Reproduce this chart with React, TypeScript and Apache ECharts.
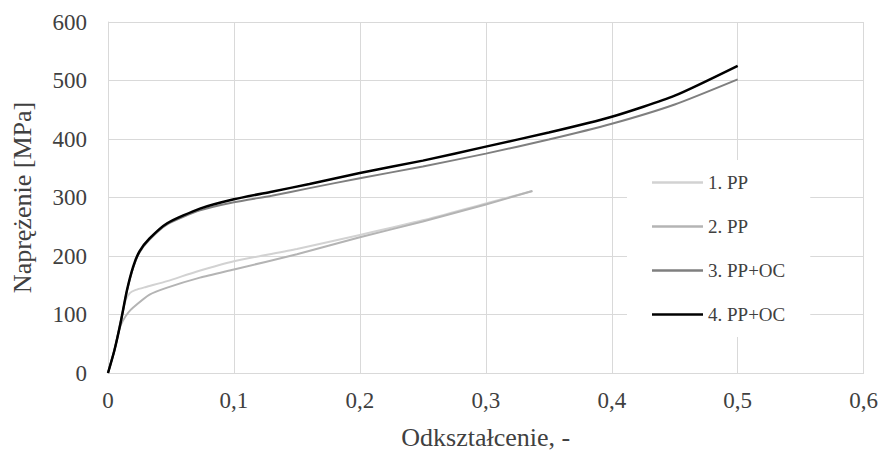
import React, { useEffect, useRef } from "react";
import * as echarts from "echarts";

const names = ["1. PP", "2. PP", "3. PP+OC", "4. PP+OC"];
const colors = ["#d2d2d2", "#b4b4b4", "#7f7f7f", "#000000"];
const widths = [2, 2, 2, 2.5];

const x1 = [0, 0.005, 0.01, 0.014, 0.0175, 0.022, 0.03, 0.047, 0.07, 0.1, 0.15, 0.2, 0.25, 0.3, 0.337];
const y1 = [0, 38, 88, 124, 137, 142, 147, 157, 173, 191, 212, 236, 261, 290, 311];

const x2 = [0, 0.005, 0.009, 0.012, 0.016, 0.02, 0.033, 0.047, 0.073, 0.1, 0.15, 0.2, 0.25, 0.3, 0.337];
const y2 = [0, 38, 75, 90, 103, 112, 134, 146, 163, 177, 203, 232, 259, 288, 311];

const x3 = [0, 0.005, 0.01, 0.015, 0.02, 0.025, 0.033, 0.047, 0.073, 0.1, 0.13, 0.16, 0.2, 0.25, 0.3, 0.35, 0.4, 0.45, 0.5];
const y3 = [0, 38, 86, 140, 180, 206, 228, 254, 278, 292, 303, 316, 333, 353, 375, 399, 426, 459, 502];

const x4 = [0, 0.005, 0.01, 0.015, 0.02, 0.025, 0.033, 0.047, 0.073, 0.1, 0.13, 0.16, 0.2, 0.25, 0.3, 0.35, 0.4, 0.45, 0.5];
const y4 = [0, 38, 86, 141, 182, 208, 230, 256, 281, 297, 310, 323, 342, 363, 387, 411, 438, 474, 525];

const xs = [x1, x2, x3, x4];
const ys = [y1, y2, y3, y4];

const FONT = "'Liberation Serif', 'Times New Roman', serif";

export default function App() {
  const ref = useRef<HTMLDivElement>(null);
  useEffect(() => {
    if (!ref.current) return;
    const chart = echarts.init(ref.current, null, { renderer: "svg" });
    chart.setOption({
      animation: false,
      backgroundColor: "#ffffff",
      textStyle: { fontFamily: FONT, color: "#404040" },
      grid: { left: 108, right: 17, top: 22, bottom: 79 },
      legend: {
        orient: "vertical",
        left: 627,
        top: 160,
        data: names.map((n) => ({ name: n, icon: "rect" })),
        itemWidth: 51,
        itemHeight: 2.5,
        itemGap: 25,
        padding: [13, 25, 13, 25],
        backgroundColor: "#ffffff",
        textStyle: { fontFamily: FONT, fontSize: 19, color: "#404040" },
      },
      xAxis: {
        type: "value",
        min: 0,
        max: 0.6,
        interval: 0.1,
        name: "Odkształcenie, -",
        nameLocation: "middle",
        nameGap: 51,
        nameTextStyle: { fontFamily: FONT, fontSize: 26, color: "#404040" },
        axisLine: { lineStyle: { color: "#d9d9d9", width: 1 } },
        axisTick: { show: false },
        axisLabel: {
          fontFamily: FONT,
          fontSize: 23,
          color: "#404040",
          margin: 16,
          formatter: (v: number) => (v === 0 ? "0" : v.toFixed(1).replace(".", ",")),
        },
        splitLine: { show: true, lineStyle: { color: "#d9d9d9", width: 1 } },
      },
      yAxis: {
        type: "value",
        min: 0,
        max: 600,
        interval: 100,
        name: "Naprężenie [MPa]",
        nameLocation: "middle",
        nameGap: 73,
        nameTextStyle: { fontFamily: FONT, fontSize: 26, color: "#404040" },
        axisLine: { show: true, lineStyle: { color: "#d9d9d9", width: 1 } },
        axisTick: { show: false },
        axisLabel: { fontFamily: FONT, fontSize: 23, color: "#404040", margin: 21 },
        splitLine: { show: true, lineStyle: { color: "#d9d9d9", width: 1 } },
      },
      series: names.map((n, i) => ({
        name: n,
        type: "line",
        showSymbol: false,
        symbol: "none",
        smooth: 0.2,
        color: colors[i],
        lineStyle: { color: colors[i], width: widths[i] },
        data: xs[i].map((x, j) => [x, ys[i][j]]),
        z: 2 + i,
      })),
    });
    return () => chart.dispose();
  }, []);
  return (
    <div
      ref={ref}
      style={{ position: "fixed", left: 0, top: 0, width: 881, height: 455 }}
    />
  );
}
